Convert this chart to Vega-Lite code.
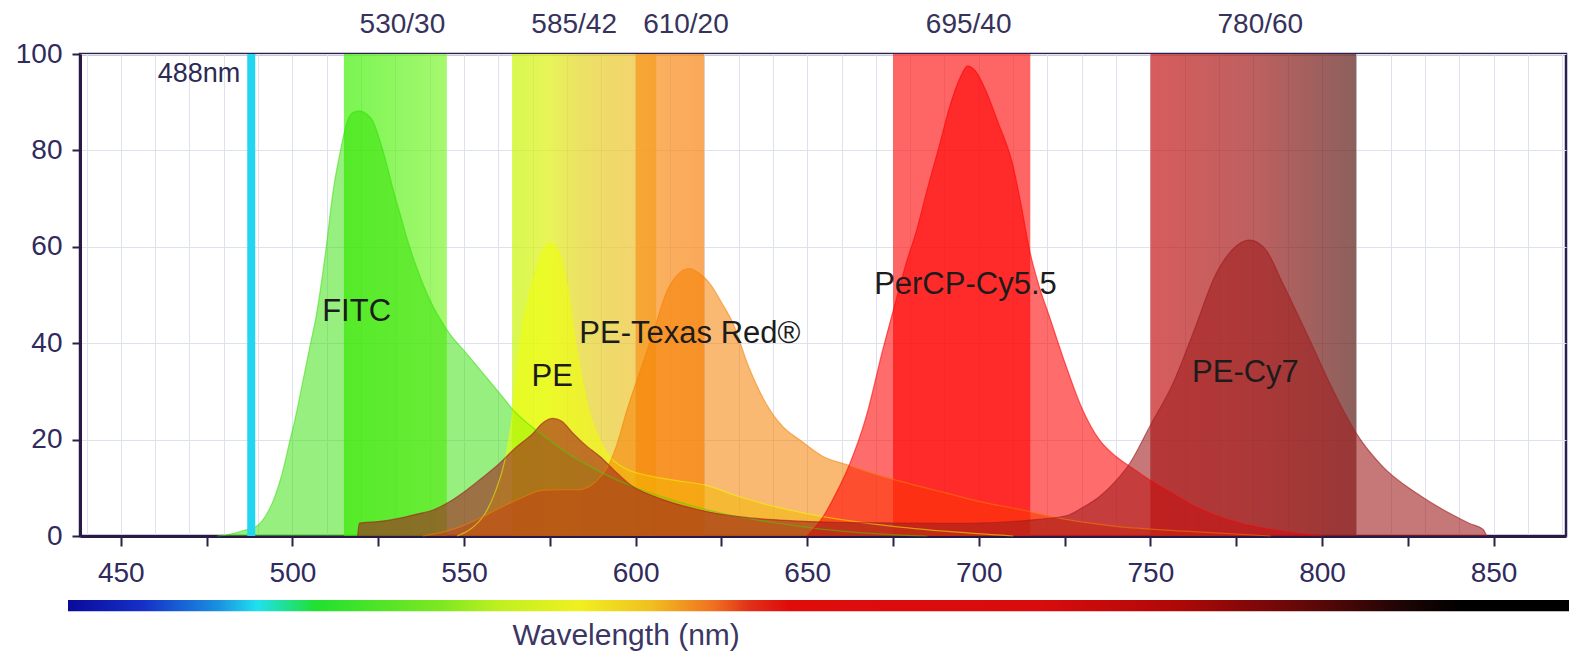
{
  "$schema": "https://vega.github.io/schema/vega-lite/v6.json",
  "width": 1486,
  "height": 482,
  "autosize": {"type": "none"},
  "padding": {"left": 80, "top": 54, "right": 3, "bottom": 118},
  "background": "white",
  "config": {
    "view": {"stroke": "#2b2050", "strokeWidth": 2.5},
    "font": "Liberation Sans",
    "axis": {"labelFont": "Liberation Sans", "titleFont": "Liberation Sans"},
    "text": {"font": "Liberation Sans"}
  },
  "resolve": {"axis": {"x": "independent"}},
  "datasets": {
    "bands": [
      {"band": "530/30", "from": 515, "to": 545, "center": 530},
      {"band": "585/42", "from": 564, "to": 606, "center": 585},
      {"band": "610/20", "from": 600, "to": 620, "center": 610},
      {"band": "695/40", "from": 675, "to": 715, "center": 695},
      {"band": "780/60", "from": 750, "to": 810, "center": 780}
    ],
    "laser": [{"laser": "488nm", "nm": 488}],
    "labels": [
      {"label": "FITC", "nm": 518.7, "level": 46.5},
      {"label": "PE", "nm": 575.7, "level": 33},
      {"label": "PE-Texas Red®", "nm": 615.8, "level": 42},
      {"label": "PerCP-Cy5.5", "nm": 696.1, "level": 52},
      {"label": "PE-Cy7", "nm": 777.7, "level": 33.9}
    ],
    "curves": [
      {"dye":"FITC","nm":478,"v":0},{"dye":"FITC","nm":482,"v":0.4},{"dye":"FITC","nm":486,"v":1.2},{"dye":"FITC","nm":489.5,"v":2},{"dye":"FITC","nm":492,"v":4},{"dye":"FITC","nm":494.5,"v":7.5},{"dye":"FITC","nm":497,"v":13},{"dye":"FITC","nm":499,"v":19},{"dye":"FITC","nm":501,"v":25},{"dye":"FITC","nm":503,"v":32},{"dye":"FITC","nm":505,"v":39},{"dye":"FITC","nm":507,"v":46},{"dye":"FITC","nm":509.5,"v":58},{"dye":"FITC","nm":511.9,"v":71.8},{"dye":"FITC","nm":514,"v":80},{"dye":"FITC","nm":515.8,"v":85.6},{"dye":"FITC","nm":517.5,"v":87.8},{"dye":"FITC","nm":519.6,"v":88.2},{"dye":"FITC","nm":521.5,"v":87.6},{"dye":"FITC","nm":523.5,"v":86},{"dye":"FITC","nm":525.5,"v":82},{"dye":"FITC","nm":527.4,"v":77.3},{"dye":"FITC","nm":529.3,"v":72},{"dye":"FITC","nm":531.3,"v":67},{"dye":"FITC","nm":533.7,"v":61},{"dye":"FITC","nm":536.1,"v":55.9},{"dye":"FITC","nm":538.5,"v":51.5},{"dye":"FITC","nm":541,"v":47.6},{"dye":"FITC","nm":543.5,"v":44.5},{"dye":"FITC","nm":545.8,"v":42},{"dye":"FITC","nm":550.7,"v":37.9},{"dye":"FITC","nm":555.5,"v":33.8},{"dye":"FITC","nm":560.4,"v":29.6},{"dye":"FITC","nm":565.2,"v":25.5},{"dye":"FITC","nm":570,"v":22.5},{"dye":"FITC","nm":575,"v":19.8},{"dye":"FITC","nm":580,"v":17.2},{"dye":"FITC","nm":590,"v":13.2},{"dye":"FITC","nm":600,"v":10},{"dye":"FITC","nm":610,"v":7.6},{"dye":"FITC","nm":620,"v":5.6},{"dye":"FITC","nm":630,"v":4},{"dye":"FITC","nm":640,"v":2.8},{"dye":"FITC","nm":650,"v":1.8},{"dye":"FITC","nm":660,"v":1},{"dye":"FITC","nm":672,"v":0.4},{"dye":"FITC","nm":685,"v":0},
      {"dye":"PE","nm":548,"v":0},{"dye":"PE","nm":552,"v":1.5},{"dye":"PE","nm":556,"v":4.5},{"dye":"PE","nm":559,"v":9},{"dye":"PE","nm":562,"v":16},{"dye":"PE","nm":564.2,"v":25.5},{"dye":"PE","nm":566.2,"v":39.3},{"dye":"PE","nm":568,"v":47},{"dye":"PE","nm":570.1,"v":53},{"dye":"PE","nm":572.5,"v":58.5},{"dye":"PE","nm":575,"v":60.8},{"dye":"PE","nm":577.3,"v":59.5},{"dye":"PE","nm":579.8,"v":53},{"dye":"PE","nm":581.3,"v":46},{"dye":"PE","nm":582.7,"v":39.3},{"dye":"PE","nm":584.7,"v":31.5},{"dye":"PE","nm":586.6,"v":25.5},{"dye":"PE","nm":589.5,"v":20},{"dye":"PE","nm":592.4,"v":16.5},{"dye":"PE","nm":597,"v":14},{"dye":"PE","nm":604,"v":12.5},{"dye":"PE","nm":612,"v":11.5},{"dye":"PE","nm":620,"v":10.6},{"dye":"PE","nm":630,"v":8.2},{"dye":"PE","nm":640,"v":6.2},{"dye":"PE","nm":650,"v":4.6},{"dye":"PE","nm":661,"v":3.3},{"dye":"PE","nm":675,"v":2},{"dye":"PE","nm":690,"v":1},{"dye":"PE","nm":710,"v":0},
      {"dye":"PE-Texas Red","nm":538,"v":0},{"dye":"PE-Texas Red","nm":545,"v":1},{"dye":"PE-Texas Red","nm":550,"v":2.2},{"dye":"PE-Texas Red","nm":555.5,"v":4},{"dye":"PE-Texas Red","nm":561,"v":6},{"dye":"PE-Texas Red","nm":567,"v":8},{"dye":"PE-Texas Red","nm":573,"v":9.5},{"dye":"PE-Texas Red","nm":578,"v":9.6},{"dye":"PE-Texas Red","nm":583,"v":9.6},{"dye":"PE-Texas Red","nm":587,"v":10.5},{"dye":"PE-Texas Red","nm":590,"v":12.5},{"dye":"PE-Texas Red","nm":592.4,"v":15.1},{"dye":"PE-Texas Red","nm":595,"v":20},{"dye":"PE-Texas Red","nm":597.2,"v":25.5},{"dye":"PE-Texas Red","nm":599.5,"v":30.5},{"dye":"PE-Texas Red","nm":602.1,"v":35.8},{"dye":"PE-Texas Red","nm":605.5,"v":43},{"dye":"PE-Texas Red","nm":608.9,"v":50.4},{"dye":"PE-Texas Red","nm":612,"v":54},{"dye":"PE-Texas Red","nm":615.7,"v":55.5},{"dye":"PE-Texas Red","nm":618.5,"v":54.5},{"dye":"PE-Texas Red","nm":621.6,"v":52.4},{"dye":"PE-Texas Red","nm":625,"v":48.5},{"dye":"PE-Texas Red","nm":628.4,"v":44.1},{"dye":"PE-Texas Red","nm":633,"v":35},{"dye":"PE-Texas Red","nm":638,"v":27.5},{"dye":"PE-Texas Red","nm":642.9,"v":22.7},{"dye":"PE-Texas Red","nm":647.7,"v":20},{"dye":"PE-Texas Red","nm":654.6,"v":16.5},{"dye":"PE-Texas Red","nm":662,"v":14.7},{"dye":"PE-Texas Red","nm":670,"v":12.8},{"dye":"PE-Texas Red","nm":680,"v":10.8},{"dye":"PE-Texas Red","nm":690,"v":9},{"dye":"PE-Texas Red","nm":700,"v":7.2},{"dye":"PE-Texas Red","nm":712,"v":5.5},{"dye":"PE-Texas Red","nm":725,"v":3.5},{"dye":"PE-Texas Red","nm":740,"v":2},{"dye":"PE-Texas Red","nm":760,"v":1},{"dye":"PE-Texas Red","nm":785,"v":0},
      {"dye":"PerCP-Cy5.5","nm":650,"v":0},{"dye":"PerCP-Cy5.5","nm":654.6,"v":4},{"dye":"PerCP-Cy5.5","nm":658.5,"v":9},{"dye":"PerCP-Cy5.5","nm":662.4,"v":15},{"dye":"PerCP-Cy5.5","nm":667.2,"v":24.8},{"dye":"PerCP-Cy5.5","nm":672,"v":38.6},{"dye":"PerCP-Cy5.5","nm":675.9,"v":49},{"dye":"PerCP-Cy5.5","nm":679,"v":57},{"dye":"PerCP-Cy5.5","nm":681.7,"v":63},{"dye":"PerCP-Cy5.5","nm":685,"v":72},{"dye":"PerCP-Cy5.5","nm":688.5,"v":81},{"dye":"PerCP-Cy5.5","nm":691.5,"v":89},{"dye":"PerCP-Cy5.5","nm":694.5,"v":95},{"dye":"PerCP-Cy5.5","nm":696.7,"v":97.5},{"dye":"PerCP-Cy5.5","nm":699,"v":96.5},{"dye":"PerCP-Cy5.5","nm":702,"v":92.5},{"dye":"PerCP-Cy5.5","nm":705.5,"v":86},{"dye":"PerCP-Cy5.5","nm":709.9,"v":77},{"dye":"PerCP-Cy5.5","nm":712.5,"v":68},{"dye":"PerCP-Cy5.5","nm":714.8,"v":59.3},{"dye":"PerCP-Cy5.5","nm":717.5,"v":52},{"dye":"PerCP-Cy5.5","nm":720.6,"v":45.5},{"dye":"PerCP-Cy5.5","nm":725.5,"v":35.1},{"dye":"PerCP-Cy5.5","nm":730.3,"v":26.1},{"dye":"PerCP-Cy5.5","nm":735.2,"v":19.9},{"dye":"PerCP-Cy5.5","nm":740,"v":16.5},{"dye":"PerCP-Cy5.5","nm":744.9,"v":14},{"dye":"PerCP-Cy5.5","nm":750,"v":11.5},{"dye":"PerCP-Cy5.5","nm":756,"v":9},{"dye":"PerCP-Cy5.5","nm":762,"v":6.5},{"dye":"PerCP-Cy5.5","nm":770,"v":4},{"dye":"PerCP-Cy5.5","nm":780,"v":2},{"dye":"PerCP-Cy5.5","nm":790,"v":0.8},{"dye":"PerCP-Cy5.5","nm":800,"v":0},
      {"dye":"PE-Cy7","nm":519,"v":0},{"dye":"PE-Cy7","nm":519.5,"v":2.7},{"dye":"PE-Cy7","nm":525,"v":3},{"dye":"PE-Cy7","nm":531.3,"v":3.7},{"dye":"PE-Cy7","nm":536,"v":4.5},{"dye":"PE-Cy7","nm":541,"v":5.4},{"dye":"PE-Cy7","nm":546,"v":7.2},{"dye":"PE-Cy7","nm":550.7,"v":9.5},{"dye":"PE-Cy7","nm":555.5,"v":12.2},{"dye":"PE-Cy7","nm":560.4,"v":15.1},{"dye":"PE-Cy7","nm":565,"v":18.3},{"dye":"PE-Cy7","nm":570.1,"v":21.3},{"dye":"PE-Cy7","nm":573,"v":23.5},{"dye":"PE-Cy7","nm":575.9,"v":24.4},{"dye":"PE-Cy7","nm":578.5,"v":23.8},{"dye":"PE-Cy7","nm":581.8,"v":21.3},{"dye":"PE-Cy7","nm":585.5,"v":18.8},{"dye":"PE-Cy7","nm":589.6,"v":16.5},{"dye":"PE-Cy7","nm":594.4,"v":13.2},{"dye":"PE-Cy7","nm":599.3,"v":10.2},{"dye":"PE-Cy7","nm":604,"v":8.6},{"dye":"PE-Cy7","nm":609,"v":7.3},{"dye":"PE-Cy7","nm":618.7,"v":5.4},{"dye":"PE-Cy7","nm":630,"v":4},{"dye":"PE-Cy7","nm":642,"v":3.3},{"dye":"PE-Cy7","nm":660,"v":2.8},{"dye":"PE-Cy7","nm":675,"v":2.7},{"dye":"PE-Cy7","nm":690,"v":2.6},{"dye":"PE-Cy7","nm":705,"v":2.8},{"dye":"PE-Cy7","nm":715,"v":3.3},{"dye":"PE-Cy7","nm":725.5,"v":4.2},{"dye":"PE-Cy7","nm":730,"v":5.8},{"dye":"PE-Cy7","nm":735.2,"v":8.2},{"dye":"PE-Cy7","nm":740,"v":11.5},{"dye":"PE-Cy7","nm":744,"v":15.1},{"dye":"PE-Cy7","nm":749.8,"v":22.7},{"dye":"PE-Cy7","nm":756.6,"v":31.7},{"dye":"PE-Cy7","nm":762.4,"v":42},{"dye":"PE-Cy7","nm":769.2,"v":54.5},{"dye":"PE-Cy7","nm":774,"v":59.5},{"dye":"PE-Cy7","nm":778.9,"v":61.4},{"dye":"PE-Cy7","nm":783.5,"v":59.5},{"dye":"PE-Cy7","nm":788.6,"v":52.4},{"dye":"PE-Cy7","nm":796.4,"v":40.7},{"dye":"PE-Cy7","nm":803.2,"v":30.3},{"dye":"PE-Cy7","nm":810,"v":21.3},{"dye":"PE-Cy7","nm":817.7,"v":14.4},{"dye":"PE-Cy7","nm":827.5,"v":8.9},{"dye":"PE-Cy7","nm":837.2,"v":4.7},{"dye":"PE-Cy7","nm":843,"v":2.6},{"dye":"PE-Cy7","nm":846.9,"v":1.4},{"dye":"PE-Cy7","nm":848,"v":0}
    ]
  },
  "layer": [
    {
      "data": {"name": "bands"},
      "transform": [{"filter": "datum.band === '530/30'"}],
      "mark": {"type": "rect", "opacity": 0.7, "color": {"gradient": "linear", "x1": 0, "x2": 1, "y1": 0, "y2": 0, "stops": [{"offset": 0, "color": "#41f108"}, {"offset": 1, "color": "#80f533"}]}},
      "encoding": {
        "x": {
          "field": "from", "type": "quantitative",
          "scale": {"domain": [438.1, 871.1], "nice": false, "zero": false},
          "axis": {
            "orient": "bottom",
            "values": [440,450,460,470,480,490,500,510,520,530,540,550,560,570,580,590,600,610,620,630,640,650,660,670,680,690,700,710,720,730,740,750,760,770,780,790,800,810,820,830,840,850,860,870],
            "title": "Wavelength (nm)",
            "titleFontSize": 30, "titleFontWeight": "normal", "titleColor": "#3b3663",
            "titleX": 432, "titleY": 99, "titleAlign": "left", "titleBaseline": "middle", "titleAnchor": "start",
            "grid": true, "gridColor": "#dde2ee", "gridWidth": 1,
            "ticks": true, "tickSize": 10, "tickOpacity": 0,
            "labelExpr": "datum.value % 50 === 0 ? datum.label : ''",
            "labelFontSize": 28, "labelColor": "#2f2b5c", "labelPadding": 13,
            "labelFlush": false, "labelOverlap": false, "labelBound": false,
            "domainColor": "#2a1845", "domainWidth": 3
          }
        },
        "x2": {"field": "to"},
        "y": {
          "datum": 0, "type": "quantitative",
          "scale": {"domain": [0, 100], "nice": false, "zero": false},
          "axis": {
            "tickCount": 10,
            "values": [0,10,20,30,40,50,60,70,80,90,100],
            "title": null,
            "grid": true, "gridColor": "#dde2ee", "gridWidth": 1,
            "tickSize": 8, "tickWidth": 2, "tickColor": "#2a2048",
            "tickOpacity": {"condition": {"test": "datum.value % 20 === 0", "value": 1}, "value": 0},
            "labelExpr": "datum.value % 20 === 0 ? datum.label : ''",
            "labelFontSize": 28, "labelColor": "#2f2b5c", "labelPadding": 10,
            "labelOverlap": false, "labelBound": false, "labelFlush": false,
            "domainColor": "#2a1845", "domainWidth": 3
          }
        },
        "y2": {"datum": 100}
      }
    },
    {
      "data": {"name": "bands"},
      "transform": [{"filter": "datum.band === '585/42'"}],
      "mark": {"type": "rect", "opacity": 0.7, "color": {"gradient": "linear", "x1": 0, "x2": 1, "y1": 0, "y2": 0, "stops": [{"offset": 0, "color": "#c7f505"}, {"offset": 0.25, "color": "#def010"}, {"offset": 0.5, "color": "#e4d224"}, {"offset": 1, "color": "#f1bc33"}]}},
      "encoding": {"x": {"field": "from", "type": "quantitative", "axis": null}, "x2": {"field": "to"}, "y": {"datum": 0, "type": "quantitative"}, "y2": {"datum": 100}}
    },
    {
      "data": {"name": "bands"},
      "transform": [{"filter": "datum.band === '610/20'"}],
      "mark": {"type": "rect", "opacity": 0.7, "color": {"gradient": "linear", "x1": 0, "x2": 1, "y1": 0, "y2": 0, "stops": [{"offset": 0, "color": "#f8941c"}, {"offset": 1, "color": "#f88313"}]}},
      "encoding": {"x": {"field": "from", "type": "quantitative", "axis": null}, "x2": {"field": "to"}, "y": {"datum": 0, "type": "quantitative"}, "y2": {"datum": 100}}
    },
    {
      "data": {"name": "bands"},
      "transform": [{"filter": "datum.band === '695/40'"}],
      "mark": {"type": "rect", "opacity": 0.7, "color": "#fe2323"},
      "encoding": {"x": {"field": "from", "type": "quantitative", "axis": null}, "x2": {"field": "to"}, "y": {"datum": 0, "type": "quantitative"}, "y2": {"datum": 100}}
    },
    {
      "data": {"name": "bands"},
      "transform": [{"filter": "datum.band === '780/60'"}],
      "mark": {"type": "rect", "opacity": 0.7, "color": {"gradient": "linear", "x1": 0, "x2": 1, "y1": 0, "y2": 0, "stops": [{"offset": 0, "color": "#c71616"}, {"offset": 0.5, "color": "#a21c1c"}, {"offset": 1, "color": "#5b1c16"}]}},
      "encoding": {"x": {"field": "from", "type": "quantitative", "axis": null}, "x2": {"field": "to"}, "y": {"datum": 0, "type": "quantitative"}, "y2": {"datum": 100}}
    },
    {
      "data": {"name": "curves"},
      "mark": {"type": "area", "interpolate": "monotone", "line": {"strokeWidth": 1.2}},
      "encoding": {
        "x": {"field": "nm", "type": "quantitative",
          "axis": {"orient": "bottom", "values": [450,475,500,525,550,575,600,625,650,675,700,725,750,775,800,825,850], "grid": false, "labels": false, "domain": false, "ticks": true, "tickSize": 10, "tickWidth": 2, "tickColor": "#2a2048", "title": null}},
        "y": {"field": "v", "type": "quantitative", "stack": null},
        "color": {"field": "dye", "type": "nominal", "scale": {"domain": ["FITC", "PE", "PE-Texas Red", "PerCP-Cy5.5", "PE-Cy7"], "range": ["#30e000", "#f0ff00", "#f58000", "#ff0000", "#a01e1e"]}, "legend": null},
        "opacity": {"field": "dye", "type": "nominal", "scale": {"domain": ["FITC", "PE", "PE-Texas Red", "PerCP-Cy5.5", "PE-Cy7"], "range": [0.5, 0.6, 0.5, 0.52, 0.6]}, "legend": null}
      }
    },
    {
      "data": {"name": "laser"},
      "mark": {"type": "rule", "color": "#22d6f2", "strokeWidth": 8},
      "encoding": {"x": {"field": "nm", "type": "quantitative", "axis": null}, "y": {"datum": 0, "type": "quantitative"}, "y2": {"datum": 100}}
    },
    {
      "data": {"name": "laser"},
      "mark": {"type": "text", "align": "right", "baseline": "middle", "dx": -11, "fontSize": 27, "color": "#2c2a52"},
      "encoding": {"x": {"field": "nm", "type": "quantitative", "axis": null}, "y": {"datum": 95.8, "type": "quantitative"}, "text": {"field": "laser"}}
    },
    {
      "data": {"name": "laser"},
      "mark": {"type": "rect", "clip": false, "color": {"gradient": "linear", "x1": 0, "x2": 1, "y1": 0, "y2": 0, "stops": [
        {"offset": 0, "color": "#0a0a9a"}, {"offset": 0.05, "color": "#1530c8"}, {"offset": 0.1, "color": "#1a90e0"}, {"offset": 0.126, "color": "#20e0f0"},
        {"offset": 0.165, "color": "#20e030"}, {"offset": 0.25, "color": "#80e820"}, {"offset": 0.288, "color": "#c0f020"}, {"offset": 0.34, "color": "#f0f020"},
        {"offset": 0.388, "color": "#f0c020"}, {"offset": 0.43, "color": "#f07020"}, {"offset": 0.454, "color": "#e03018"}, {"offset": 0.48, "color": "#e00c0c"},
        {"offset": 0.648, "color": "#d80c0c"}, {"offset": 0.737, "color": "#b00808"}, {"offset": 0.827, "color": "#600808"}, {"offset": 0.895, "color": "#180404"},
        {"offset": 0.93, "color": "#000000"}, {"offset": 1, "color": "#000000"}]}},
      "encoding": {"x": {"datum": 434.6, "type": "quantitative", "axis": null}, "x2": {"datum": 872}, "y": {"datum": -13.3, "type": "quantitative"}, "y2": {"datum": -15.6}}
    },
    {
      "data": {"name": "bands"},
      "transform": [{"filter": "datum.band === '530/30' || datum.band === '695/40' || datum.band === '780/60'"}],
      "mark": {"type": "text", "align": "center", "baseline": "middle", "dx": 7, "fontSize": 28, "color": "#37325c"},
      "encoding": {"x": {"field": "center", "type": "quantitative", "axis": null}, "y": {"datum": 106, "type": "quantitative"}, "text": {"field": "band"}}
    },
    {
      "data": {"name": "bands"},
      "transform": [{"filter": "datum.band === '585/42'"}],
      "mark": {"type": "text", "align": "center", "baseline": "middle", "dx": -10, "fontSize": 28, "color": "#37325c"},
      "encoding": {"x": {"field": "center", "type": "quantitative", "axis": null}, "y": {"datum": 106, "type": "quantitative"}, "text": {"field": "band"}}
    },
    {
      "data": {"name": "bands"},
      "transform": [{"filter": "datum.band === '610/20'"}],
      "mark": {"type": "text", "align": "center", "baseline": "middle", "dx": 16, "fontSize": 28, "color": "#37325c"},
      "encoding": {"x": {"field": "center", "type": "quantitative", "axis": null}, "y": {"datum": 106, "type": "quantitative"}, "text": {"field": "band"}}
    },
    {
      "data": {"name": "labels"},
      "mark": {"type": "text", "align": "center", "baseline": "middle", "fontSize": 31, "color": "#1c1c1c"},
      "encoding": {"x": {"field": "nm", "type": "quantitative", "axis": null}, "y": {"field": "level", "type": "quantitative"}, "text": {"field": "label"}}
    }
  ]
}
